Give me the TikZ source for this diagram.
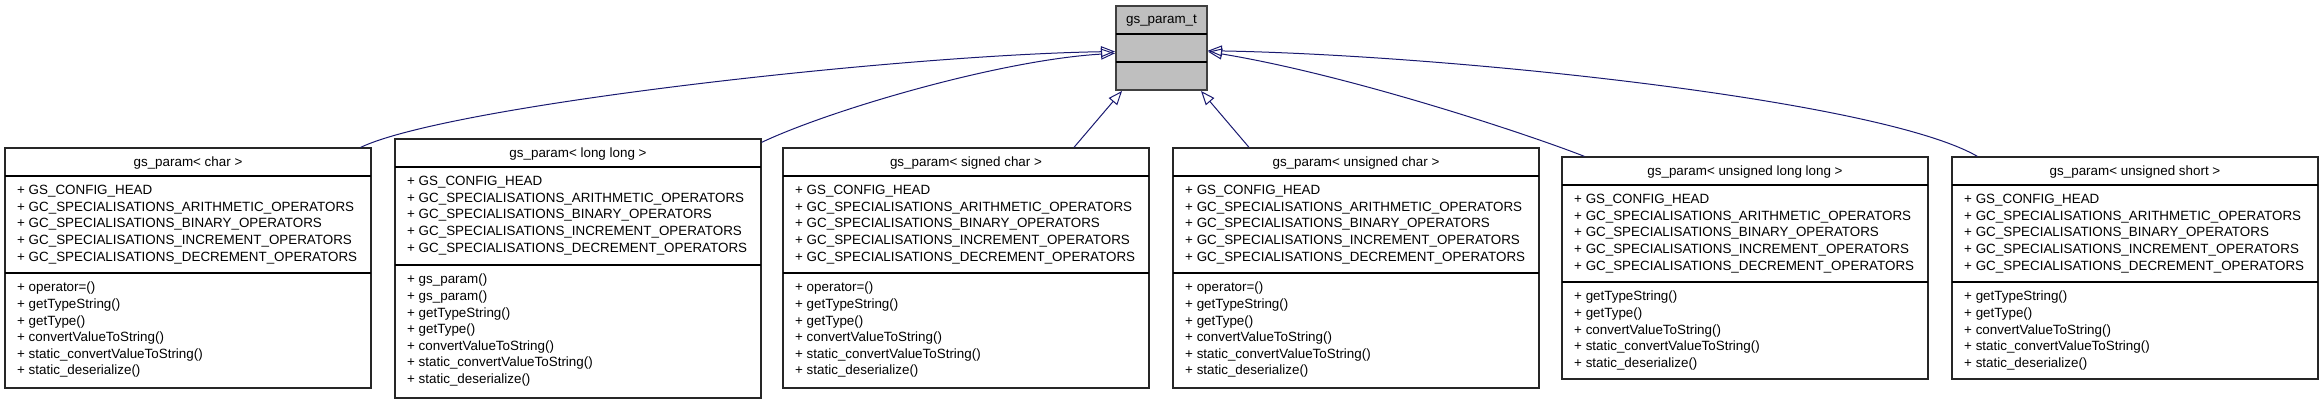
\documentclass[tikz,border=0pt]{standalone}
\usepackage{fontspec}
\setmainfont{Liberation Sans}
\usepackage{tikz}
\usetikzlibrary{positioning}
\usetikzlibrary{arrows.meta}
\usetikzlibrary{calc}

\definecolor{edgeblue}{RGB}{25,25,112}
\definecolor{basegray}{RGB}{191,191,191}

\tikzset{
  classbox/.style={draw=black!85, line width=1.3pt, fill=white, minimum width=366pt, inner sep=0pt},
  basebox/.style={draw=black!75, line width=2pt, fill=basegray, minimum width=91pt, minimum height=84pt, inner sep=0pt},
  sepline/.style={draw=black, line width=1.3pt},
  member/.style={anchor=base west, inner sep=0pt, font=\fontsize{13.4}{16}\selectfont},
  classtitle/.style={anchor=base, inner sep=0pt, font=\fontsize{13.4}{16}\selectfont},
  inherit/.style={draw=edgeblue, line width=1pt, -{Triangle[open, length=14pt, width=11pt]}},
}

% #1 name, #2 left, #3 top, #4 second separator, #5 bottom, #6 title, #7 methods
\newcommand{\umlclass}[7]{%
  \node[classbox, minimum height=#5pt-#3pt] (#1) at ({#2+183},{(#3+#5)/2}) {};
  \draw[sepline] (#2,#3+28) -- (#2+366,#3+28);
  \draw[sepline] (#2,#4) -- (#2+366,#4);
  \node[classtitle] (#1-title) at ({#2+183},#3+19) {#6};
  \foreach \txt [count=\i] in {GS\_CONFIG\_HEAD, GC\_SPECIALISATIONS\_ARITHMETIC\_OPERATORS,
      GC\_SPECIALISATIONS\_BINARY\_OPERATORS, GC\_SPECIALISATIONS\_INCREMENT\_OPERATORS,
      GC\_SPECIALISATIONS\_DECREMENT\_OPERATORS}
    \node[member] (#1-a\i) at ({#2+12},{#3+28+18.8+16.6*(\i-1)}) {+ \txt};
  \foreach \txt [count=\i] in {#7}
    \node[member] (#1-m\i) at ({#2+12},{#4+18.8+16.6*(\i-1)}) {+ \txt};
}

\begin{document}
\begin{tikzpicture}[x=1pt, y=-1pt]
    \useasboundingbox (0,0) rectangle (2323,403);

    % Base class
    \node[basebox] (gsparamt) at (1161.5,48) {};
    \draw[sepline, line width=2pt] (1116,34) -- (1207,34);
    \draw[sepline, line width=2pt] (1116,62) -- (1207,62);
    \node[classtitle] (gsparamt-title) at (1161.5,24) {gs\_param\_t};

    % Specialisations
    \umlclass{pchar}{5}{148}{273}{388}{gs\_param< char >}
      {operator=(), getTypeString(), getType(), convertValueToString(), static\_convertValueToString(), static\_deserialize()}
    \umlclass{plonglong}{395}{139}{265}{398}{gs\_param< long long >}
      {gs\_param(), gs\_param(), getTypeString(), getType(), convertValueToString(), static\_convertValueToString(), static\_deserialize()}
    \umlclass{psignedchar}{783}{148}{273}{388}{gs\_param< signed char >}
      {operator=(), getTypeString(), getType(), convertValueToString(), static\_convertValueToString(), static\_deserialize()}
    \umlclass{punsignedchar}{1173}{148}{273}{388}{gs\_param< unsigned char >}
      {operator=(), getTypeString(), getType(), convertValueToString(), static\_convertValueToString(), static\_deserialize()}
    \umlclass{pulonglong}{1562}{157}{282}{379}{gs\_param< unsigned long long >}
      {getTypeString(), getType(), convertValueToString(), static\_convertValueToString(), static\_deserialize()}
    \umlclass{pushort}{1952}{157}{282}{379}{gs\_param< unsigned short >}
      {getTypeString(), getType(), convertValueToString(), static\_convertValueToString(), static\_deserialize()}

    % Inheritance arrows
    \draw[inherit] ($(pchar.north east)+(-11,0)$) .. controls (450,105) and (900,55) .. ($(gsparamt.west)+(0,3.5)$);
    \draw[inherit] ($(plonglong.north east)+(0,4)$) .. controls (830,110) and (1000,60) .. ($(gsparamt.west)+(0,5.3)$);
    \draw[inherit] ($(psignedchar.north)+(108,0)$) -- ($(gsparamt.south west)+(7,0)$);
    \draw[inherit] ($(punsignedchar.north)+(-107,0)$) -- ($(gsparamt.south east)+(-7,0)$);
    \draw[inherit] ($(pulonglong.north west)+(23,0)$) .. controls (1530,135) and (1350,75) .. ($(gsparamt.east)+(0,3.7)$);
    \draw[inherit] ($(pushort.north west)+(26,0)$) .. controls (1880,100) and (1450,55) .. ($(gsparamt.east)+(0,2.7)$);
  \end{tikzpicture}
\end{document}
